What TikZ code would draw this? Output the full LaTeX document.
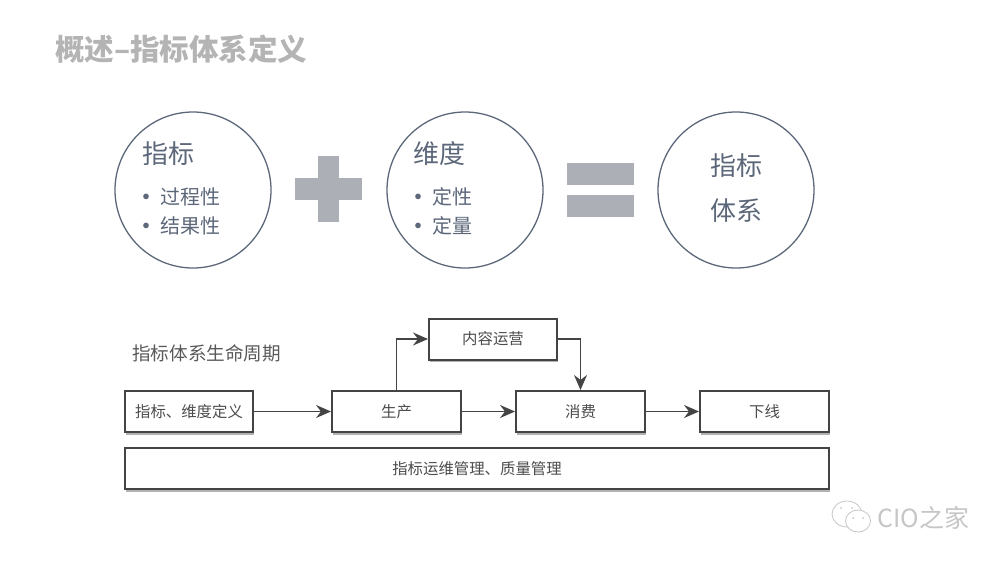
\documentclass[tikz,border=0pt]{standalone}
\usepackage{fontspec}
\setmainfont{Noto Sans CJK SC}
\usetikzlibrary{arrows.meta,shadows}
\definecolor{slateink}{HTML}{5C6779}
\definecolor{plusgray}{HTML}{ACAFB6}
\definecolor{boxline}{HTML}{444444}
\definecolor{marktext}{HTML}{B4B4B4}
\definecolor{stamp}{HTML}{C6C6C6}
\tikzset{
  ring/.style={draw=slateink,line width=1.3pt,circle,minimum size=156pt,inner sep=0pt},
  ringtext/.style={text=slateink,inner sep=0pt},
  stagebox/.style={draw=boxline,line width=2pt,fill=white,minimum height=41pt,inner sep=0pt,
    text=black!70,font=\fontsize{15.4}{18}\selectfont,
    drop shadow={shadow xshift=1pt,shadow yshift=-2.6pt,opacity=0.5,fill=black!60}},
  flow/.style={draw=boxline,line width=1.6pt,-{Stealth[length=15pt,width=13pt,inset=5pt]}},
  bar/.style={fill=plusgray,inner sep=0pt},
  markline/.style={draw=stamp,line width=0.8pt,fill=white}
}
\begin{document}
\begin{tikzpicture}[x=1pt,y=-1pt]
\useasboundingbox (0,0) rectangle (1000,562);

\node[anchor=west,inner sep=0pt,text=marktext,font=\fontsize{29.5}{32}\selectfont\bfseries] (title) at (55,49) {概述--指标体系定义};

% top row
\node[ring] (zhibiao) at (193,190) {};
\node[ring] (weidu) at (465,190) {};
\node[ring] (tixi) at (736,190) {};

\node[ringtext,anchor=west,font=\fontsize{26}{30}\selectfont] (zhibiaohead) at (142,154) {指标};
\node[ringtext,anchor=west,font=\fontsize{20}{24}\selectfont] (guocheng) at (136,197) {\textbf{•}\hspace{4pt}过程性};
\node[ringtext,anchor=west,font=\fontsize{20}{24}\selectfont] (jieguo) at (136,226) {\textbf{•}\hspace{4pt}结果性};

\node[ringtext,anchor=west,font=\fontsize{26}{30}\selectfont] (weiduhead) at (413,154) {维度};
\node[ringtext,anchor=west,font=\fontsize{20}{24}\selectfont] (dingxing) at (408,197) {\textbf{•}\hspace{4pt}定性};
\node[ringtext,anchor=west,font=\fontsize{20}{24}\selectfont] (dingliang) at (408,226) {\textbf{•}\hspace{4pt}定量};

\node[ringtext,font=\fontsize{26}{30}\selectfont] (tixia) at (736,166) {指标};
\node[ringtext,font=\fontsize{26}{30}\selectfont] (tixib) at (736,211) {体系};

\node[bar,minimum width=67pt,minimum height=22pt] (plush) at (328.5,189) {};
\node[bar,minimum width=21pt,minimum height=66pt] (plusv) at (328.5,189) {};
\node[bar,minimum width=67pt,minimum height=22pt] (equala) at (600.5,174) {};
\node[bar,minimum width=67pt,minimum height=22pt] (equalb) at (600.5,206) {};

% lifecycle
\node[anchor=west,inner sep=0pt,text=black!65,font=\fontsize{18.6}{22}\selectfont] (lifecycle) at (132,353) {指标体系生命周期};

\node[stagebox,minimum width=128pt] (dingyi) at (189,411.5) {指标、维度定义};
\node[stagebox,minimum width=129pt] (shengchan) at (396.5,411.5) {生产};
\node[stagebox,minimum width=129pt] (xiaofei) at (580.5,411.5) {消费};
\node[stagebox,minimum width=129pt] (xiaxian) at (764.5,411.5) {下线};
\node[stagebox,minimum width=128pt] (yunying) at (493,339) {内容运营};
\node[stagebox,minimum width=704pt] (guanli) at (477,468.5) {指标运维管理、质量管理};

\draw[flow] (dingyi) -- (shengchan);
\draw[flow] (shengchan) -- (xiaofei);
\draw[flow] (xiaofei) -- (xiaxian);
\draw[flow] (shengchan.north) |- (yunying.west);
\draw[flow] (yunying.east) -| (xiaofei.north);

% watermark
\draw[markline] (847,514) ellipse (15pt and 13pt);
\draw[markline] (858,521) ellipse (12.5pt and 11pt);
\fill[stamp] (841,508) circle (1pt) (852,508) circle (1pt) (853,518) circle (1pt) (863,518) circle (1pt);
\node[anchor=west,inner sep=0pt,text=stamp,font=\fontsize{25}{28}\selectfont] (cio) at (877,518) {CIO之家};
\end{tikzpicture}
\end{document}
